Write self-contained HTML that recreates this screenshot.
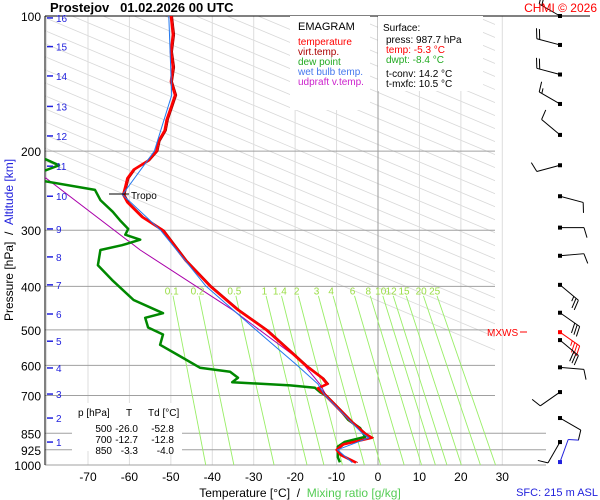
<!DOCTYPE html>
<html><head><meta charset="utf-8"><style>
body{margin:0;background:#fff;}
svg{display:block;font-family:"Liberation Sans",Arial,sans-serif;}
</style></head><body>
<svg id="chart" width="600" height="500" viewBox="0 0 600 500">
<rect x="0" y="0" width="600" height="500" fill="#fff"/>
<g id="grid"></g>
<g id="series"></g>
<g id="barbs"></g>
<g id="labels"></g>
<text x="50" y="12" font-size="13" font-weight="bold">Prostejov&#160;&#160;&#160;01.02.2026 00 UTC</text>
<text x="597" y="12" font-size="12" fill="#f00" text-anchor="end">CHMI © 2026</text>
<text x="300" y="497" font-size="12" text-anchor="middle"><tspan fill="#000">Temperature [°C]&#160;&#160;/&#160;&#160;</tspan><tspan fill="#5c5">Mixing ratio [g/kg]</tspan></text>
<text x="598" y="496" font-size="11" fill="#22d" text-anchor="end">SFC: 215 m ASL</text>
<text transform="translate(13,240) rotate(-90)" font-size="12" text-anchor="middle"><tspan fill="#000">Pressure [hPa]&#160;&#160;/&#160;&#160;</tspan><tspan fill="#22d">Altitude [km]</tspan></text>
<g>
<rect x="290" y="16" width="80" height="94" fill="#fff"/>
<text x="298" y="30" font-size="11">EMAGRAM</text>
<text x="298" y="45" font-size="10" fill="#f00">temperature</text>
<text x="298" y="55" font-size="10" fill="#a00">virt.temp.</text>
<text x="298" y="65" font-size="10" fill="#2a2">dew point</text>
<text x="298" y="75" font-size="10" fill="#47e">wet bulb temp.</text>
<text x="298" y="85" font-size="10" fill="#c2c">udpraft v.temp.</text>
</g>
<g>
<rect x="378" y="16" width="105" height="75" fill="#fff"/>
<text x="383" y="31" font-size="10">Surface:</text>
<text x="386" y="43" font-size="10">press: 987.7 hPa</text>
<text x="386" y="53" font-size="10" fill="#f00">temp: -5.3 °C</text>
<text x="386" y="63" font-size="10" fill="#2a2">dwpt: -8.4 °C</text>
<text x="386" y="77" font-size="10">t-conv: 14.2 °C</text>
<text x="386" y="87" font-size="10">t-mxfc: 10.5 °C</text>
</g>
<g>
<rect x="72" y="403" width="110" height="48" fill="#fff"/>
<text x="78" y="416" font-size="10">p [hPa]</text><text x="126" y="416" font-size="10">T</text><text x="148" y="416" font-size="10">Td [°C]</text>
<text x="112" y="432" font-size="10" text-anchor="end">500</text><text x="138" y="432" font-size="10" text-anchor="end">-26.0</text><text x="174" y="432" font-size="10" text-anchor="end">-52.8</text>
<text x="112" y="443" font-size="10" text-anchor="end">700</text><text x="138" y="443" font-size="10" text-anchor="end">-12.7</text><text x="174" y="443" font-size="10" text-anchor="end">-12.8</text>
<text x="112" y="454" font-size="10" text-anchor="end">850</text><text x="138" y="454" font-size="10" text-anchor="end">-3.3</text><text x="174" y="454" font-size="10" text-anchor="end">-4.0</text>
</g>
<g>
<line x1="109" y1="194" x2="129" y2="194" stroke="#000" stroke-width="1"/>
<text x="131" y="199" font-size="10">Tropo</text>
</g>
<g>
<text x="487" y="336" font-size="10" fill="#f00">MXWS</text>
<line x1="520" y1="332" x2="527" y2="332" stroke="#f00"/>
</g>
</svg>
<script>
// ---- data ----
const tempP = [100,110,120,130,140,150,160,170,180,190,200,210,220,230,240,250,260,280,300,350,400,450,500,550,600,640,660,675,700,750,800,850,870,885,900,925,950,975,988];
const tempT = [-50,-49.5,-50,-49.5,-50,-49,-50,-51,-51.5,-53,-53.5,-55.5,-59,-60.5,-61,-61.5,-60.5,-57,-52,-46.5,-40.5,-34,-27,-22,-17.5,-13.5,-12.3,-14.5,-12.7,-9.5,-6.5,-3.3,-1.5,-5,-8.5,-10,-9,-6.5,-5.3];
const dewP = [205,215,222,232,244,257,273,285,298,307,315,324,332,359,387,429,459,470,494,512,540,569,607,620,639,654,665,673,688,698,753,793,828,866,888,910,961,986];
const dewT = [-82,-77,-81,-82,-68.3,-67,-64,-62.3,-60.3,-61,-57.4,-61.8,-67,-67.6,-64.2,-59,-51.9,-56.2,-55.5,-51.9,-52.6,-48.3,-43,-35.7,-33.8,-35.2,-21.2,-15.2,-14,-12.8,-9.2,-7.2,-4.3,-3.1,-8,-9.7,-9.7,-9.2];
const wbP = [100,150,200,250,300,400,500,600,660,700,850,870,925,988];
const wbT = [-50.5,-49.8,-54,-61.7,-52.5,-41.5,-29.5,-19.5,-14.5,-12.8,-3.8,-2.2,-9.8,-6.2];
const updP = [228,332,452,584,661,700];
const updT = [-80.6,-57.4,-35,-18.8,-14,-12.5];
const mixRatios = [0.1,0.2,0.5,1,1.4,2,3,4,6,8,10,12,15,20,25];
const pressureTicks = [100,200,300,400,500,600,700,850,925,1000];
const tempTicks = [-70,-60,-50,-40,-30,-20,-10,0,10,20,30];
const altKm = [1,2,3,4,5,6,7,8,9,10,11,12,13,14,15,16];
const altP = [889,786,695,608,530,461,397,344,298,252,216,185,159,136,117,101];
const windP = [100,116,135,157,184,215,252,296,342,397,458,506,527,606,688,786,889,985];
const windDir = [300,285,285,300,310,255,105,90,85,130,125,125,130,95,235,120,210,20];
const windSpd = [20,20,20,15,10,10,10,10,10,25,30,35,30,10,10,10,10,10];
const windColor = ['#000','#000','#000','#000','#000','#000','#000','#000','#000','#000','#000','#f00','#000','#000','#000','#000','#000','#22d'];

// ---- axes ----
const X0 = 378, XS = 4.143, Y0 = 16, YS = 449;
const L = 45, R = 495, TOP = 16, BOT = 465;
function xT(t){return X0 + t*XS;}
function yP(p){return Y0 + YS*Math.log10(p/100);}
const NS = 'http://www.w3.org/2000/svg';
function mk(tag, parent, attrs){const e=document.createElementNS(NS,tag);for(const k in attrs)e.setAttribute(k,attrs[k]);parent.appendChild(e);return e;}
const grid = document.getElementById('grid'), series = document.getElementById('series'), barbs = document.getElementById('barbs'), labels = document.getElementById('labels');

const defs = mk('defs', document.getElementById('chart'), {});
const cp = mk('clipPath', defs, {id:'plotclip'});
mk('rect', cp, {x:L, y:TOP, width:R-L, height:BOT-TOP});

const dg = mk('g', grid, {'clip-path':'url(#plotclip)', stroke:'#d8d8d8', 'stroke-width':'0.8'});


for(let x0=-300; x0<R; x0+=31){
  mk('line', dg, {x1:x0, y1:TOP, x2:x0+(BOT-TOP)/0.42, y2:BOT});
}
for(let t=-80;t<=30;t+=10){
  const v = mk('line', grid, {x1:xT(t), y1:TOP, x2:xT(t), y2:BOT, stroke:t===0?'#999':'#ddd', 'stroke-width':1});
  
  
}
pressureTicks.forEach(p=>{
  const right = p>=850 ? 546 : R;
  const h = mk('line', grid, {x1:L, y1:yP(p), x2:right, y2:yP(p), stroke:'#a0a0a0', 'stroke-width':1});
  
  
  const t = mk('text', labels, {x:41, y:yP(p)+5, 'font-size':12, 'text-anchor':'end'});
  t.textContent = p;
  
  
});
mk('line', grid, {x1:L, y1:TOP, x2:L, y2:BOT, stroke:'#000', 'stroke-width':1});
mk('line', grid, {x1:L, y1:TOP, x2:590, y2:TOP, stroke:'#000', 'stroke-width':1});
tempTicks.forEach(t=>{
  const e = mk('text', labels, {x:xT(t), y:481, 'font-size':12, 'text-anchor':'middle'});
  e.textContent = t;
  
  
});
altKm.forEach((k,i)=>{
  const y = yP(altP[i]);
  const l = mk('line', labels, {x1:47, y1:y, x2:53, y2:y, stroke:'#22d', 'stroke-width':1.5});
  
  
  const t = mk('text', labels, {x:56, y:y+4, 'font-size':10, fill:'#22d'});
  t.textContent = k;
  
  
});
function tdFromW(w,p){const e=w*p/(622+w);const a=Math.log(e/6.112);return 243.5*a/(17.67-a);}
mixRatios.forEach(w=>{
  const l = mk('line', grid, {x1:xT(tdFromW(w,420)), y1:yP(420), x2:xT(tdFromW(w,1000)), y2:yP(1000), stroke:'#9e6', 'stroke-width':0.9});
  
  
  const t = mk('text', labels, {x:xT(tdFromW(w,405)), y:yP(405)+6, 'font-size':10, fill:'#9d4', 'text-anchor':'middle'});
  t.textContent = w;
  
  
});
function poly(P,T,color,width,name,dt){
  const pts = P.map((p,i)=>xT(T[i]+(dt||0)).toFixed(1)+','+yP(p).toFixed(1)).join(' ');
  const e = mk('polyline', series, {points:pts, fill:'none', stroke:color, 'stroke-width':width, 'stroke-linejoin':'round', 'clip-path':'url(#plotclip)'});
  
  
}
poly(updP, updT, '#a0a', 1, 'updraft-line');
poly(dewP, dewT, '#080', 2.5, 'dew-point-line');
poly(tempP, tempT, '#a00', 1, 'virtual-temp-line', 0.4);
poly(tempP, tempT, '#f00', 2.5, 'temperature-line');
poly(wbP, wbT, '#27e', 1, 'wet-bulb-line');

windP.forEach((p,i)=>{
  const x = 560, y = yP(p), c = windColor[i];
  const a = windDir[i]*Math.PI/180;
  const ux = Math.sin(a), uy = -Math.cos(a);
  const g = mk('g', barbs, {stroke:c, 'stroke-width':1, fill:'none'});
  
  
  const ex = x+ux*24, ey = y+uy*24;
  mk('line', g, {x1:x, y1:y, x2:ex, y2:ey});
  mk('rect', g, {x:x-2, y:y-2, width:4, height:4, fill:c, stroke:'none'});
  const fx = -uy, fy = ux;
  let s = windSpd[i], k = 0;
  while(s>=10){const bx=ex-ux*k*3, by=ey-uy*k*3; mk('line', g, {x1:bx, y1:by, x2:bx+fx*10+ux*3, y2:by+fy*10+uy*3}); s-=10; k++;}
  if(s>=5){const bx=ex-ux*k*3, by=ey-uy*k*3; mk('line', g, {x1:bx, y1:by, x2:bx+fx*5+ux*1.5, y2:by+fy*5+uy*1.5});}
});
</script>
</body></html>
